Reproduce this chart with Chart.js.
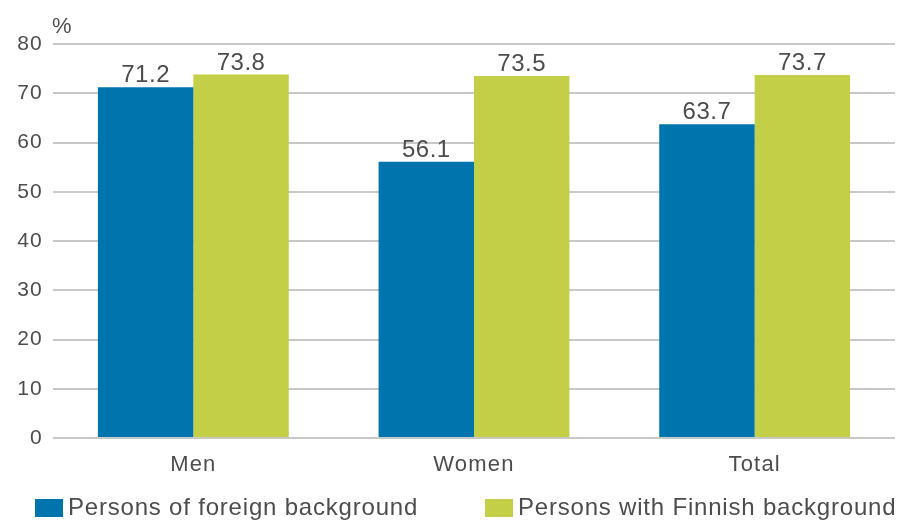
<!DOCTYPE html>
<html lang="en">
<head>
    <meta charset="UTF-8">
    <title>Employment rate by background</title>
    <script src="https://cdn.jsdelivr.net/npm/chart.js"></script>
    <style>
        body {
            margin: 0;
            background: #fff;
        }
        #chart {
            display: block;
        }
    </style>
</head>
<body>
    <canvas id="chart" width="899" height="521"></canvas>

    <script>
        // values in per cent
        const categories = ['Men', 'Women', 'Total'];
        const foreignBackground = [71.2, 56.1, 63.7];
        const finnishBackground = [73.8, 73.5, 73.7];
        const yTicks = [0, 10, 20, 30, 40, 50, 60, 70, 80];

        const FONT = '"Liberation Sans", Arial, sans-serif';
        const TEXT = '#4d4d4d';

        // slightly wider axis lettering
        const wideText = {
            id: 'wideText',
            beforeDraw(chart) {
                chart.ctx.letterSpacing = '1.2px';
            }
        };

        // value on top of every bar + the "%" unit above the axis
        const barLabels = {
            id: 'barLabels',
            afterDatasetsDraw(chart) {
                const c = chart.ctx;
                c.save();
                c.letterSpacing = '0.5px';
                c.font = '24px ' + FONT;
                c.fillStyle = TEXT;
                c.textAlign = 'center';
                c.textBaseline = 'alphabetic';
                chart.data.datasets.forEach((ds, i) => {
                    chart.getDatasetMeta(i).data.forEach((bar, j) => {
                        c.fillText(ds.data[j].toFixed(1), bar.x, bar.y - 5);
                    });
                });
                c.font = '22px ' + FONT;
                c.textAlign = 'left';
                c.fillText('%', chart.chartArea.left - 1, 33);
                c.restore();
            }
        };

        // legend row under the axis, two items at fixed x
        const legendXs = [35, 485];
        const bottomLegend = {
            id: 'bottomLegend',
            afterDraw(chart) {
                const c = chart.ctx;
                c.save();
                c.letterSpacing = '0.8px';
                c.font = '24px ' + FONT;
                c.textBaseline = 'middle';
                chart.data.datasets.forEach((ds, i) => {
                    const x = legendXs[i];
                    c.fillStyle = ds.backgroundColor;
                    c.fillRect(x, 499, 28, 18);
                    c.fillStyle = TEXT;
                    c.fillText(ds.label, x + 33, 508);
                });
                c.restore();
            }
        };

        new Chart(document.getElementById('chart'), {
            type: 'bar',
            data: {
                labels: categories,
                datasets: [{
                    label: 'Persons of foreign background',
                    data: foreignBackground,
                    backgroundColor: '#0074ad'
                }, {
                    label: 'Persons with Finnish background',
                    data: finnishBackground,
                    backgroundColor: '#c3cf47'
                }]
            },
            options: {
                responsive: false,
                animation: false,
                layout: {
                    padding: { top: 44, right: 4, left: 0, bottom: 45 }
                },
                datasets: {
                    bar: {
                        categoryPercentage: 0.68,
                        barPercentage: 1.0
                    }
                },
                scales: {
                    x: {
                        afterFit(scale) {
                            scale.height = 38;
                        },
                        grid: { display: false },
                        border: { display: false },
                        ticks: {
                            color: TEXT,
                            font: { family: FONT, size: 22 },
                            padding: 6
                        }
                    },
                    y: {
                        min: 0,
                        max: 80,
                        afterBuildTicks(scale) {
                            scale.ticks = yTicks.map(v => ({ value: v }));
                        },
                        afterFit(scale) {
                            scale.width = 53;
                        },
                        border: { display: false },
                        grid: {
                            color: '#c8c8c8',
                            lineWidth: 2,
                            drawTicks: false
                        },
                        ticks: {
                            color: TEXT,
                            font: { family: FONT, size: 21 },
                            padding: 10
                        }
                    }
                },
                plugins: {
                    tooltip: { enabled: false },
                    legend: { display: false }
                }
            },
            plugins: [wideText, barLabels, bottomLegend]
        });
    </script>
</body>
</html>
